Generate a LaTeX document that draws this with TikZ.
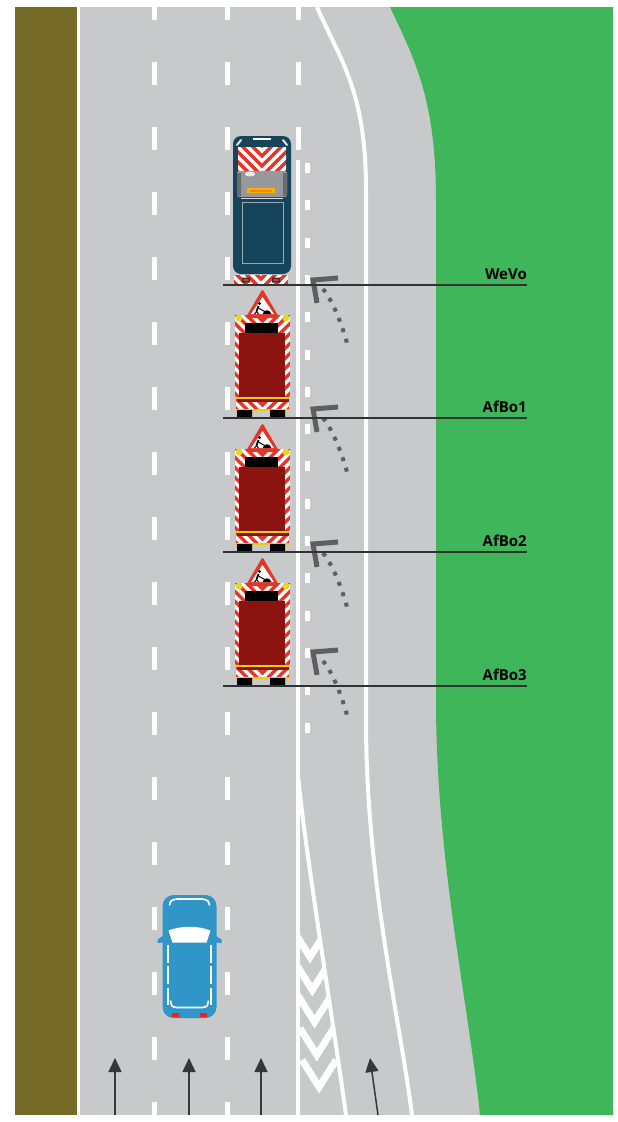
\documentclass[tikz,border=0pt]{standalone}
\usepackage{fontspec}
\setmainfont{Open Sans}
\usepackage{tikz}
\usetikzlibrary{arrows.meta}
\definecolor{verge}{RGB}{118,107,38}
\definecolor{asphalt}{RGB}{200,201,203}
\definecolor{grass}{RGB}{64,182,90}
\definecolor{vanbody}{RGB}{22,68,90}
\definecolor{roofline}{RGB}{150,168,180}
\definecolor{signred}{RGB}{230,52,40}
\definecolor{cargo}{RGB}{139,20,16}
\definecolor{lamp}{RGB}{236,214,30}
\definecolor{bumper}{RGB}{228,208,20}
\definecolor{carblue}{RGB}{48,150,200}
\definecolor{tailred}{RGB}{228,36,40}
\definecolor{markgray}{RGB}{95,95,95}
\definecolor{arrowgray}{RGB}{55,55,55}
\definecolor{leadergray}{RGB}{50,50,50}
\definecolor{winggray}{RGB}{150,152,155}
\definecolor{pillar}{RGB}{105,107,110}
\definecolor{amber}{RGB}{245,180,0}

% red/white chevron panel, stripes pointing down to the middle
\newcommand{\stripebox}[4]{%
  \begin{scope}
    \clip (#1,#2) rectangle (#3,#4);
    \fill[signred] (#1,#2) rectangle (#3,#4);
    \foreach \k in {-4,...,16}
      \draw[white, line width=3.5pt] ({(#1+#3)/2-40},{#4-10*\k}) -- ({(#1+#3)/2},{#4+40-10*\k}) -- ({(#1+#3)/2+40},{#4-10*\k});
  \end{scope}}

\tikzset{
  lane/.style={white, line width=4pt},
  leader/.style={draw=leadergray, line width=1.1pt},
  vlabel/.style={font=\bfseries\fontsize{15}{15}\selectfont, anchor=base east, inner sep=0pt},
  flowarrow/.style={-{Triangle[length=14pt,width=13pt]}, line width=1.5pt, draw=arrowgray},
  % curved evasion mark next to each vehicle
  swerve/.pic={
    \draw[markgray, line width=5pt] (25,-2) -- (0,0) -- (4,23);
    \draw[markgray, line width=4pt, dash pattern=on 4pt off 7pt] (10,9) .. controls (20,21) and (29,45) .. (34,63);
  },
  % works van seen from above, origin at the rear line
  workvan/.pic={
    \fill[vanbody, rounded corners=8pt] (-29,-149) rectangle (29,-11);
    \draw[white, line width=1.5pt] (-9,-146) -- (9,-146);
    \draw[white!80!gray, line width=2pt, line cap=round] (-25,-140) -- (-21,-145) (25,-140) -- (21,-145);
    \stripebox{-24}{-138}{24}{-114}
    \fill[winggray, rounded corners=2pt] (-25,-114) rectangle (25,-88);
    \fill[pillar] (-25,-112) rectangle (-21,-89) (21,-112) rectangle (25,-89);
    \fill[white!85!gray] (-12,-111) ellipse (5 and 2.5);
    \fill[amber] (-15,-97) rectangle (13,-92);
    \fill[orange] (-12,-95.5) rectangle (10,-93.5);
    \draw[white!70!gray, line width=0.9pt] (-21,-87) -- (21,-87);
    \draw[roofline, line width=0.9pt] (-20,-83) rectangle (21,-22);
    \stripebox{-28}{-10}{26}{-1}
    \fill[black!80] (-20,-7.5) rectangle (-12,-2.5) (10,-7.5) rectangle (18,-2.5);
    \fill[signred] (-18.5,-6) rectangle (-13.5,-4) (11.5,-6) rectangle (16.5,-4);
  },
  % safety trailer with warning sign, origin at the rear line
  signtruck/.pic={
    \stripebox{-27.5}{-103}{27.5}{-12}
    \fill[cargo] (-23.5,-85) rectangle (22.5,-20);
    \fill[black] (-17.5,-95) rectangle (15.5,-85);
    \stripebox{-27.5}{-20}{27.5}{-8}
    \fill[cargo] (-26,-19.5) rectangle (26,-16.5);
    \draw[bumper, line width=1.2pt] (-27,-20) rectangle (27,-8);
    \fill[black] (-25.5,-8) rectangle (-10.5,0) (7.5,-8) rectangle (22.5,0);
    \fill[lamp] (-23.5,-100) circle (3.5) (23.5,-100) circle (3.5);
    \fill[signred, rounded corners=1.5pt] (0,-129) -- (17,-100) -- (-17,-100) -- cycle;
    \fill[white] (0,-121) -- (11.5,-104) -- (-11.5,-104) -- cycle;
    \fill[black] (-3,-114.5) circle (1.7);
    \draw[black, line width=1.8pt] (-4,-112) -- (-6,-106.5);
    \draw[black, line width=1pt] (-6,-106.5) -- (-8,-104) (-6,-106.5) -- (-4,-104) (-4,-110) -- (3,-106);
    \fill[black] (0,-104) .. controls (2,-109) and (7,-109) .. (9,-104) -- cycle;
  },
  % passenger car, origin at its centre
  passcar/.pic={
    \fill[carblue] (-26,-21) -- (-32,-17) -- (-32,-13.5) -- (-26,-14) -- cycle
                   (26,-21) -- (32,-17) -- (32,-13.5) -- (26,-14) -- cycle;
    \fill[carblue, rounded corners=11pt] (-27,-61.5) rectangle (27,61.5);
    \draw[white, line width=1.6pt] (-20,-51) .. controls (-19,-56) .. (-13,-57.5) -- (13,-57.5) .. controls (19,-56) .. (20,-51);
    \fill[white] (-21,-26) .. controls (-8,-31) and (8,-31) .. (21,-26) -- (17,-14) -- (-17,-14) -- cycle;
    \foreach \s in {-1,1}
      \foreach \a/\b in {-12/6, 9/27, 31/48}
        \draw[white, line width=1.6pt] ({21.5*\s},\a) -- ({21.5*\s},\b);
    \draw[white, line width=1.6pt] (-19,44) .. controls (-18,50) .. (-13,51) -- (13,51) .. controls (18,50) .. (19,44);
    \fill[tailred] (-17.5,56.5) rectangle (-10.5,60.5) (10.5,56.5) rectangle (17.5,60.5);
  }
}

\begin{document}
\begin{tikzpicture}[x=1pt,y=-1pt]
  \useasboundingbox (0,0) rectangle (618,1122);
  \begin{scope}
    \clip (15,7) rectangle (613,1115);
    % ground
    \fill[asphalt] (15,7) rectangle (613,1115);
    \fill[verge] (15,7) rectangle (77,1115);
    \fill[white] (77,7) rectangle (80,1115);
    \fill[grass] (390,7) .. controls (415,60) and (436,100) .. (436,200) -- (436,700)
      .. controls (436,860) and (468,1000) .. (480,1115) -- (613,1115) -- (613,7) -- cycle;
    % lane markings
    \foreach \x in {154,227}
      \foreach \k in {0,...,17}
        \fill[white] (\x-2.5,{-3+65*\k}) rectangle ++(5,23);
    \foreach \k in {0,1,2}
      \fill[white] (295.5,{-3+65*\k}) rectangle ++(5,23);
    \draw[lane] (298,160) -- (298,1115);
    \foreach \k in {0,...,15}
      \fill[white] (304.5,{163+37.3*\k}) rectangle ++(5,10);
    \draw[lane] (317,7) .. controls (340,60) and (366,90) .. (366,190) -- (366,720)
      .. controls (366,880) and (400,1020) .. (412,1115);
    \draw[lane] (298,775) .. controls (305,850) and (330,1000) .. (346,1115);
    % chevron hatching between the split lines
    \begin{scope}
      \clip (298,775) .. controls (305,850) and (330,1000) .. (346,1115) -- (298,1115) -- cycle;
      \foreach \yy in {957,990,1022,1055,1087}
        \draw[white, line width=7pt] ({293+0.07*(\yy-957)},\yy-27) -- ({310+0.07*(\yy-957)},\yy) -- ({327+0.07*(\yy-957)},\yy-27);
    \end{scope}
    \foreach \yy in {280,409,544,652}
      \pic at (313,\yy) {swerve};
    % traffic direction
    \foreach \x in {115,189,261}
      \draw[flowarrow] (\x,1115) -- (\x,1058);
    \draw[flowarrow] (378,1115) -- (370,1058);
  \end{scope}

  % vehicles
  \pic at (262,285) {workvan};
  \foreach \yy in {418,552,686}
    \pic at (262.5,\yy) {signtruck};
  \pic at (189.5,956.5) {passcar};

  % labels
  \foreach \lbl/\yy in {WeVo/285, AfBo1/418, AfBo2/552, AfBo3/686} {
    \coordinate (\lbl-w) at (223,\yy);
    \coordinate (\lbl-e) at (527,\yy);
    \node[vlabel] (\lbl) at ([yshift=6pt]\lbl-e) {\lbl};
    \draw[leader] (\lbl-w) -- (\lbl-e);
  }
\end{tikzpicture}
\end{document}
